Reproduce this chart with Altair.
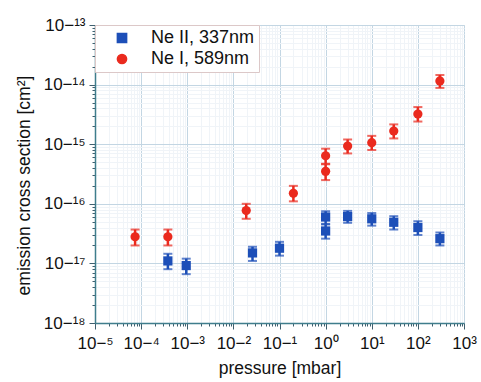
import altair as alt
import pandas as pd

# Ne II, 337nm (blue squares)
ne2_p = [3.8e-4, 9.5e-4, 0.026, 0.1, 1.0, 1.0, 3.0, 10.0, 30.0, 100.0, 300.0]
ne2_v = [1.1e-17, 9.2e-18, 1.5e-17, 1.8e-17, 6.0e-17, 3.5e-17, 6.1e-17, 5.6e-17, 4.9e-17, 4.0e-17, 2.6e-17]
ne2_lo = [0.8e-17, 6.6e-18, 1.1e-17, 1.35e-17, 4.6e-17, 2.6e-17, 4.8e-17, 4.3e-17, 3.7e-17, 3.0e-17, 2.0e-17]
ne2_hi = [1.45e-17, 1.2e-17, 1.9e-17, 2.3e-17, 7.5e-17, 4.5e-17, 7.6e-17, 7.0e-17, 6.2e-17, 5.1e-17, 3.3e-17]

# Ne I, 589nm (red circles)
ne1_p = [7.4e-5, 3.8e-4, 0.019, 0.2, 1.0, 1.0, 3.0, 10.0, 30.0, 100.0, 300.0]
ne1_v = [2.8e-17, 2.8e-17, 7.7e-17, 1.5e-16, 6.4e-16, 3.5e-16, 9.3e-16, 1.06e-15, 1.66e-15, 3.2e-15, 1.15e-14]
ne1_lo = [2.0e-17, 2.0e-17, 5.6e-17, 1.1e-16, 4.7e-16, 2.5e-16, 7.0e-16, 8.0e-16, 1.25e-15, 2.4e-15, 8.8e-15]
ne1_hi = [3.7e-17, 3.7e-17, 1.0e-16, 2.0e-16, 8.4e-16, 4.6e-16, 1.2e-15, 1.38e-15, 2.15e-15, 4.2e-15, 1.45e-14]

series = ["Ne II, 337nm", "Ne I, 589nm"]
colors = ["#1d4fb8", "#ea2a1e"]
shapes = ["square", "circle"]

x_major = [1e-5, 1e-4, 1e-3, 1e-2, 1e-1, 1e0, 1e1, 1e2, 1e3]
y_major = [1e-18, 1e-17, 1e-16, 1e-15, 1e-14, 1e-13]
x_ticks = [m * d for d in x_major[:-1] for m in range(1, 10)] + [x_major[-1]]
y_ticks = [m * d for d in y_major[:-1] for m in range(1, 10)] + [y_major[-1]]

rows = []
for name, P, V, L, H in [(series[0], ne2_p, ne2_v, ne2_lo, ne2_hi),
                         (series[1], ne1_p, ne1_v, ne1_lo, ne1_hi)]:
    for p, v, lo, hi in zip(P, V, L, H):
        rows.append({"series": name, "p": p, "v": v, "lo": lo, "hi": hi})
df = pd.DataFrame(rows)

is_major = "abs(log(datum.value)/LN10 - round(log(datum.value)/LN10)) < 0.001"
sup = ("replace(replace(replace(replace(replace(replace(replace(replace(replace(replace(replace("
       "format(round(log(datum.value)/LN10), 'd'),"
       "'-', '⁻'), '0', '⁰'), '1', '¹'), '2', '²'), '3', '³'), '4', '⁴'),"
       "'5', '⁵'), '6', '⁶'), '7', '⁷'), '8', '⁸'), '9', '⁹')")
label_expr = f"({is_major}) ? '10' + {sup} : ''"

font = "Liberation Sans"

x_scale = alt.Scale(type="log", domain=[1e-5, 1e3], nice=False)
y_scale = alt.Scale(type="log", domain=[1e-18, 1e-13], nice=False)

common = dict(
    grid=True,
    gridColor={"condition": {"test": is_major, "value": "#c3d6e3"}, "value": "#f0f4f8"},
    tickSize={"condition": {"test": is_major, "value": 6}, "value": 3},
    tickColor="#3f5f6e", domainColor="#3f7d8c", domainWidth=1.5,
    labelFont=font, labelFontSize=17, labelColor="#111",
    labelFlush=False, labelOverlap=False,
    titleFont=font, titleFontSize=17.5, titleFontWeight="normal", titleColor="#111",
)
x_axis = alt.Axis(values=x_ticks, labelExpr=label_expr, title="pressure [mbar]",
                  labelPadding=6, titlePadding=8, **common)
y_axis = alt.Axis(values=y_ticks, labelExpr=label_expr, title="emission cross section [cm²]",
                  labelPadding=4, titlePadding=10, titleY=160, **common)

color = alt.Color("series:N", scale=alt.Scale(domain=series, range=colors),
                  legend=alt.Legend(title=None, orient="none", legendX=0, legendY=0,
                                    fillColor="white", strokeColor="#dcc8c8",
                                    padding=4, labelFont=font, labelFontSize=18,
                                    labelColor="#111", symbolSize=85, rowPadding=3,
                                    symbolOpacity=1, symbolOffset=14, labelOffset=20,
                                    offset=0))
shape = alt.Shape("series:N", scale=alt.Scale(domain=series, range=shapes))

base = alt.Chart(df)

bars = base.mark_rule(strokeWidth=2.5).encode(
    x=alt.X("p:Q", scale=x_scale, axis=x_axis),
    y=alt.Y("lo:Q", scale=y_scale, axis=y_axis),
    y2="hi:Q",
    color=color,
)
cap_lo = base.mark_tick(thickness=2, size=9, orient="horizontal").encode(
    x="p:Q", y="lo:Q", color=color,
)
cap_hi = base.mark_tick(thickness=2, size=9, orient="horizontal").encode(
    x="p:Q", y="hi:Q", color=color,
)
points = base.mark_point(filled=True, opacity=1, size=85).encode(
    x="p:Q", y="v:Q", color=color, shape=shape,
)

chart = alt.layer(bars, cap_lo, cap_hi, points).properties(
    width=369, height=298,
    autosize=alt.AutoSizeParams(type="none"),
    padding={"left": 95, "top": 25, "right": 17, "bottom": 59},
).configure_view(stroke="#e2cfcf", strokeWidth=1).configure(background="white")

chart.save("out.html", embed_options={"renderer": "svg", "actions": False})
